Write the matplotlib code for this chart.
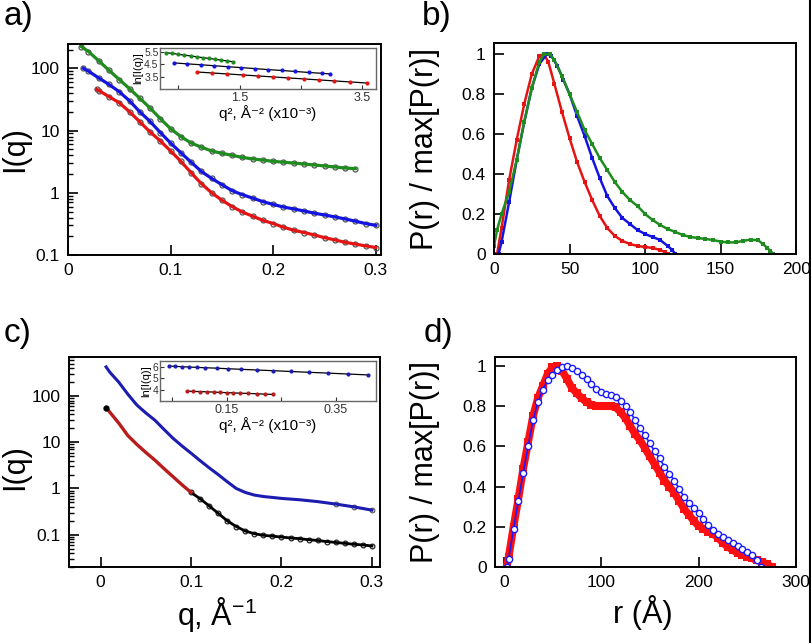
import matplotlib
matplotlib.use("Agg")
from matplotlib import pyplot as plt
from matplotlib.lines import Line2D
from matplotlib.ticker import NullFormatter

plt.rcParams['font.family'] = ['Liberation Sans', 'DejaVu Sans']
plt.rcParams['mathtext.fontset'] = 'custom'
plt.rcParams['mathtext.rm'] = 'Liberation Sans'

# ---- panel a: I(q) curves ----
qa_green = [0.013, 0.02, 0.03, 0.04, 0.05, 0.06, 0.07, 0.08, 0.09, 0.10, 0.11, 0.12, 0.13, 0.14,
            0.15, 0.16, 0.17, 0.18, 0.19, 0.20, 0.21, 0.22, 0.23, 0.24, 0.25, 0.26, 0.27, 0.28]
ia_green = [224, 186, 132, 93, 66, 47, 33, 23, 15.5, 10.7, 8.0, 6.3, 5.4, 4.7,
            4.3, 4.0, 3.7, 3.5, 3.35, 3.2, 3.1, 3.0, 2.9, 2.8, 2.7, 2.6, 2.5, 2.45]
qa_blue = [0.015, 0.02, 0.03, 0.04, 0.05, 0.06, 0.07, 0.08, 0.09, 0.10, 0.11, 0.12, 0.13, 0.14, 0.15,
           0.16, 0.17, 0.18, 0.19, 0.20, 0.21, 0.22, 0.23, 0.24, 0.25, 0.26, 0.27, 0.28, 0.29, 0.30]
ia_blue = [100, 90, 70, 55, 42, 30, 20, 14, 9.3, 6.3, 4.4, 3.1, 2.2, 1.7, 1.35,
           1.08, 0.93, 0.82, 0.72, 0.65, 0.59, 0.55, 0.51, 0.47, 0.44, 0.41, 0.38, 0.35, 0.32, 0.30]
qa_red = [0.028, 0.03, 0.04, 0.05, 0.06, 0.07, 0.08, 0.09, 0.10, 0.11, 0.12, 0.13, 0.14, 0.15,
          0.16, 0.17, 0.18, 0.19, 0.20, 0.21, 0.22, 0.23, 0.24, 0.25, 0.26, 0.27, 0.28, 0.29, 0.30]
ia_red = [46, 44, 35, 28, 20, 13.8, 9.5, 6.8, 4.7, 3.2, 2.1, 1.4, 1.0, 0.76,
          0.6, 0.49, 0.42, 0.36, 0.32, 0.28, 0.25, 0.23, 0.21, 0.19, 0.175, 0.16, 0.15, 0.14, 0.132]

# inset a: ln I vs q^2 (x10^-3)
ga_x = [0.30, 0.40, 0.50, 0.60, 0.70, 0.80, 0.90, 1.00, 1.10, 1.20, 1.30, 1.39]
ga_y = [5.42, 5.36, 5.29, 5.22, 5.16, 5.09, 5.02, 4.96, 4.89, 4.82, 4.76, 4.69]
ba_x = [0.43, 0.65, 0.87, 1.09, 1.31, 1.53, 1.75, 1.97, 2.19, 2.41, 2.63, 2.85, 2.98]
ba_y = [4.60, 4.52, 4.45, 4.37, 4.29, 4.22, 4.14, 4.06, 3.99, 3.91, 3.83, 3.76, 3.71]
ra_x = [0.80, 1.05, 1.30, 1.55, 1.80, 2.05, 2.30, 2.55, 2.80, 3.05, 3.30, 3.58]
ra_y = [3.87, 3.79, 3.71, 3.63, 3.55, 3.47, 3.39, 3.31, 3.23, 3.15, 3.07, 2.98]

# ---- panel b: P(r) ----
rb_red = [2, 5, 10, 15, 20, 25, 30, 33, 36, 40, 45, 50, 55, 60, 65, 70, 75, 80, 85, 90, 95, 100, 105, 110, 113, 115]
pb_red = [0, 0.13, 0.37, 0.57, 0.75, 0.9, 0.99, 1.0, 0.96, 0.85, 0.71, 0.58, 0.46, 0.36, 0.27, 0.19,
          0.13, 0.09, 0.065, 0.05, 0.04, 0.035, 0.03, 0.02, 0.01, 0]
rb_blue = [3, 5, 10, 15, 20, 25, 30, 35, 38, 42, 46, 50, 55, 60, 65, 70, 75, 80, 85, 90, 95, 100, 105, 110, 115, 118, 120]
pb_blue = [0, 0.06, 0.26, 0.47, 0.66, 0.83, 0.95, 1.0, 0.99, 0.94, 0.87, 0.8, 0.69, 0.59, 0.48, 0.38,
           0.29, 0.23, 0.18, 0.15, 0.12, 0.1, 0.085, 0.07, 0.04, 0.02, 0]
rb_green = [0, 2, 5, 10, 15, 20, 25, 30, 33, 37, 40, 45, 50, 55, 60, 65, 70, 75, 80, 85, 90, 95, 100, 105,
            110, 115, 120, 125, 130, 135, 140, 145, 150, 155, 160, 165, 170, 175, 178, 181, 183, 185]
pb_green = [0.04, 0.12, 0.2, 0.31, 0.47, 0.66, 0.83, 0.96, 1.0, 1.0, 0.97, 0.89, 0.8, 0.71, 0.62, 0.55,
            0.48, 0.42, 0.36, 0.31, 0.27, 0.24, 0.2, 0.17, 0.145, 0.125, 0.11, 0.095, 0.085, 0.08,
            0.075, 0.07, 0.062, 0.058, 0.058, 0.066, 0.072, 0.068, 0.05, 0.03, 0.015, 0]

# ---- panel c: I(q) ----
qc_blue = [0.006, 0.01, 0.02, 0.03, 0.04, 0.05, 0.06, 0.07, 0.08, 0.09, 0.10, 0.11, 0.12, 0.13, 0.14,
           0.15, 0.16, 0.17, 0.18, 0.19, 0.20, 0.22, 0.24, 0.26, 0.28, 0.30]
ic_blue = [427, 330, 200, 110, 64, 43, 30, 19, 12.2, 8.3, 5.8, 4.0, 2.8, 2.0, 1.4,
           1.0, 0.82, 0.72, 0.67, 0.64, 0.61, 0.57, 0.52, 0.46, 0.40, 0.34]
qc_red = [0.006, 0.01, 0.02, 0.03, 0.04, 0.05, 0.06, 0.07, 0.08, 0.09, 0.10]
ic_red = [56, 45, 26, 14, 9.0, 6.0, 4.1, 2.7, 1.8, 1.2, 0.82]
qc_black = [0.10, 0.11, 0.12, 0.13, 0.14, 0.15, 0.16, 0.17, 0.18, 0.19, 0.20, 0.21, 0.22, 0.23,
            0.24, 0.25, 0.26, 0.27, 0.28, 0.29, 0.30]
ic_black = [0.82, 0.6, 0.42, 0.29, 0.2, 0.15, 0.12, 0.105, 0.097, 0.093, 0.089, 0.085, 0.082, 0.078,
            0.075, 0.071, 0.068, 0.065, 0.062, 0.06, 0.057]

# inset c
bc_x = [0.044, 0.056, 0.068, 0.081, 0.095, 0.11, 0.132, 0.153, 0.177, 0.205, 0.235, 0.267, 0.3, 0.335, 0.371, 0.408]
bc_y = [6.05, 6.03, 6.0, 5.97, 5.94, 5.91, 5.87, 5.82, 5.77, 5.71, 5.65, 5.58, 5.51, 5.44, 5.36, 5.28]
rc_x = [0.077, 0.089, 0.101, 0.114, 0.126, 0.138, 0.15, 0.162, 0.174, 0.189, 0.205, 0.22, 0.235]
rc_y = [3.86, 3.84, 3.82, 3.80, 3.78, 3.75, 3.73, 3.71, 3.68, 3.66, 3.63, 3.60, 3.57]

# ---- panel d: P(r) ----
rd_blue = [3, 5, 10, 15, 20, 25, 30, 35, 40, 45, 50, 55, 60, 65, 70, 75, 80, 85, 90, 95, 100, 105, 110,
           115, 120, 125, 130, 135, 140, 145, 150, 155, 160, 165, 170, 175, 180, 185, 190, 195, 200, 205,
           210, 215, 220, 225, 230, 235, 240, 245, 250, 255, 260, 264]
pd_blue = [0, 0.04, 0.19, 0.33, 0.47, 0.6, 0.73, 0.82, 0.88, 0.93, 0.955, 0.98, 0.995, 1.0, 0.99, 0.975,
           0.955, 0.935, 0.91, 0.885, 0.87, 0.86, 0.855, 0.845, 0.825, 0.8, 0.77, 0.73, 0.69, 0.655,
           0.615, 0.575, 0.54, 0.5, 0.465, 0.43, 0.39, 0.35, 0.32, 0.295, 0.27, 0.24, 0.21, 0.185,
           0.165, 0.15, 0.135, 0.12, 0.105, 0.09, 0.076, 0.06, 0.035, 0]
rd_red = [3, 5, 10, 15, 20, 25, 30, 35, 40, 45, 50, 55, 60, 65, 70, 75, 80, 85, 90, 95, 100, 105, 110,
          115, 120, 125, 130, 135, 140, 145, 150, 155, 160, 165, 170, 175, 180, 185, 190, 195, 200, 205,
          210, 215, 220, 225, 230, 235, 240, 245, 250, 255, 260, 265, 270, 275]
pd_red = [0, 0.05, 0.2, 0.34, 0.49, 0.62, 0.75, 0.84, 0.9, 0.96, 0.995, 1.0, 0.975, 0.935, 0.89, 0.865,
          0.84, 0.82, 0.808, 0.802, 0.8, 0.8, 0.8, 0.795, 0.77, 0.74, 0.7, 0.66, 0.63, 0.59, 0.55, 0.51,
          0.47, 0.43, 0.4, 0.37, 0.33, 0.29, 0.26, 0.23, 0.204, 0.19, 0.175, 0.165, 0.145, 0.12, 0.1,
          0.085, 0.07, 0.06, 0.051, 0.043, 0.033, 0.025, 0.015, 0]

GREEN = '#1e8c1e'
BLUE = '#1414e0'
RED = '#e41414'
GREY = '#555555'

fig = plt.figure(figsize=(8.12, 6.43), dpi=100)

TICK = 12.5
LAB = 22


def style(ax):
    ax.tick_params(which='major', direction='in', length=7, width=1.2, labelsize=TICK,
                   top=False, right=False, pad=6, colors='black')
    ax.tick_params(which='minor', direction='in', length=3.5, width=1.0, top=False, right=False)
    for s in ax.spines.values():
        s.set_linewidth(1.4)


def style_inset(ax):
    ax.tick_params(which='major', direction='in', length=3, width=0.8, labelsize=9,
                   top=False, right=False, pad=2, colors='#333333')
    ax.tick_params(axis='y', labelsize=7.5, pad=1)
    for s in ax.spines.values():
        s.set_linewidth(1.0)
        s.set_color('#666666')


# ---------- a ----------
ax = fig.add_axes([0.0837, 0.6034, 0.3855, 0.328])
for q, i, c in [(qa_green, ia_green, GREEN), (qa_blue, ia_blue, BLUE), (qa_red, ia_red, RED)]:
    ax.plot(q, i, 'o', mfc='none', mec=GREY, ms=3.6, mew=0.9)
    ax.plot(q, i, color=c, lw=2.3)
ax.set_yscale('log')
ax.set_xlim(0, 0.305)
ax.set_ylim(0.1, 245)
ax.set_xticks([0, 0.1, 0.2, 0.3])
ax.set_xticklabels(['0', '0.1', '0.2', '0.3'])
ax.set_yticks([0.1, 1, 10, 100])
ax.set_yticklabels(['0.1', '1', '10', '100'])
ax.yaxis.set_minor_formatter(NullFormatter())
style(ax)
ax.set_ylabel('I(q)', fontsize=LAB)
ax.yaxis.set_label_coords(-0.12, 0.5)

ins = fig.add_axes([0.197, 0.8616, 0.266, 0.0638])
for x, y, c in [(ga_x, ga_y, GREEN), (ba_x, ba_y, BLUE), (ra_x, ra_y, RED)]:
    ins.plot(x, y, color='black', lw=0.9)
    ins.plot(x, y, 'o', color=c, ms=2)
ins.set_xlim(0.2, 3.73)
ins.set_ylim(2.5, 5.8)
ins.set_xticks([0.5, 1.5, 2.5, 3.5])
ins.set_xticklabels(['', '1.5', '', '3.5'])
ins.set_yticks([3.5, 4.5, 5.5])
ins.set_yticklabels(['3.5', '4.5', '5.5'])
style_inset(ins)
ins.set_xlabel('q², Å⁻² (x10⁻³)', fontsize=11, labelpad=1)
ins.set_ylabel('ln[I(q)]', fontsize=8, labelpad=1)

# ---------- b ----------
ax = fig.add_axes([0.6084, 0.605, 0.372, 0.328])
for r, p, c in [(rb_red, pb_red, RED), (rb_blue, pb_blue, BLUE), (rb_green, pb_green, GREEN)]:
    ax.plot(r, p, color=c, lw=1.8, marker='s', ms=2.2, mew=0)
ax.set_xlim(0, 200)
ax.set_ylim(0, 1.055)
ax.set_xticks([0, 50, 100, 150, 200])
ax.set_yticks([0, 0.2, 0.4, 0.6, 0.8, 1.0])
ax.set_yticklabels(['0', '0.2', '0.4', '0.6', '0.8', '1'])
style(ax)
ax.set_ylabel('P(r) / max[P(r)]', fontsize=LAB)
ax.yaxis.set_label_coords(-0.18, 0.5)

# ---------- c ----------
CBLUE = '#1c1cb0'
CRED = '#b81c1c'
ax = fig.add_axes([0.085, 0.1182, 0.383, 0.3266])
ax.plot(qc_black, ic_black, 'o', mfc='none', mec='#222222', ms=3.4, mew=0.9)
ax.plot(qc_blue[-3:], ic_blue[-3:], 'o', mfc='none', mec=GREY, ms=3.4, mew=0.8)
ax.plot(qc_blue, ic_blue, color=CBLUE, lw=2.2)
ax.plot(qc_black, ic_black, color='black', lw=2.0)
ax.plot(qc_red, ic_red, color=CRED, lw=2.4)
ax.plot(qc_red[:1], ic_red[:1], 'o', color='black', ms=3.5)
ax.set_yscale('log')
ax.set_xlim(-0.035, 0.309)
ax.set_ylim(0.02, 700)
ax.set_xticks([0, 0.1, 0.2, 0.3])
ax.set_xticklabels(['0', '0.1', '0.2', '0.3'])
ax.set_yticks([0.1, 1, 10, 100])
ax.set_yticklabels(['0.1', '1', '10', '100'])
ax.yaxis.set_minor_formatter(NullFormatter())
style(ax)
ax.set_ylabel('I(q)', fontsize=LAB)
ax.yaxis.set_label_coords(-0.125, 0.476)
ax.set_xlabel(r'q, Å$^{-1}$', fontsize=LAB)
ax.xaxis.set_label_coords(0.476, -0.135)

ins = fig.add_axes([0.197, 0.3764, 0.266, 0.0622])
for x, y, c in [(bc_x, bc_y, CBLUE), (rc_x, rc_y, CRED)]:
    ins.plot(x, y, color='black', lw=0.9)
    ins.plot(x, y, 'o', color=c, ms=2)
ins.set_xlim(0.028, 0.423)
ins.set_ylim(3.0, 6.5)
ins.set_xticks([0.05, 0.15, 0.25, 0.35])
ins.set_xticklabels(['', '0.15', '', '0.35'])
ins.set_yticks([4, 5, 6])
style_inset(ins)
ins.set_xlabel('q², Å⁻² (x10⁻³)', fontsize=11, labelpad=1)
ins.set_ylabel('ln[I(q)]', fontsize=8, labelpad=1)

# ---------- d ----------
DRED = '#ff1010'
DBLUE = '#1a1aff'
ax = fig.add_axes([0.6096, 0.1182, 0.3707, 0.3266])
ax.plot(rd_red, pd_red, color=DRED, lw=5.5, solid_capstyle='butt')
ax.plot(rd_red, pd_red, 's', color=DRED, ms=6, mew=0)
ax.plot(rd_blue, pd_blue, color=DBLUE, lw=1.2)
ax.plot(rd_blue, pd_blue, 'o', mfc='white', mec=DBLUE, ms=4.5, mew=1.0)
ax.set_xlim(-9, 300)
ax.set_ylim(0, 1.045)
ax.set_xticks([0, 100, 200, 300])
ax.set_yticks([0, 0.2, 0.4, 0.6, 0.8, 1.0])
ax.set_yticklabels(['0', '0.2', '0.4', '0.6', '0.8', '1'])
style(ax)
ax.set_ylabel('P(r) / max[P(r)]', fontsize=LAB)
ax.yaxis.set_label_coords(-0.183, 0.5)
ax.set_xlabel('r (Å)', fontsize=LAB)
ax.xaxis.set_label_coords(0.49, -0.135)

# panel letters
fig.text(0.004, 0.998, 'a)', fontsize=24, va='top', ha='left')
fig.text(0.519, 0.998, 'b)', fontsize=24, va='top', ha='left')
fig.text(0.004, 0.505, 'c)', fontsize=24, va='top', ha='left')
fig.text(0.522, 0.505, 'd)', fontsize=24, va='top', ha='left')

fig.add_artist(Line2D([0.9975, 0.9975], [0, 1], transform=fig.transFigure, color='black', lw=1.5))

fig.savefig('out.png', dpi=100)
